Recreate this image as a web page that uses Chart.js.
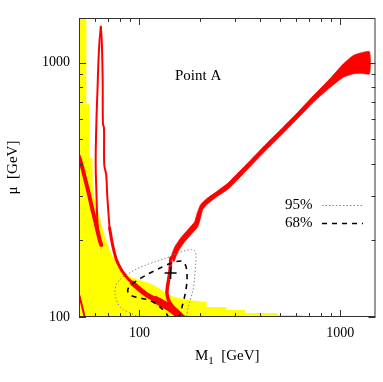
<!DOCTYPE html>
<html>
<head>
<meta charset="utf-8">
<script src="https://cdn.jsdelivr.net/npm/chart.js@4.4.1/dist/chart.umd.min.js"></script>
<style>
  html, body { margin: 0; padding: 0; background: #fff; }
  canvas { display: block; }
</style>
</head>
<body>
<canvas id="chart" width="383" height="382"></canvas>
<script>
// axes
const xRange = [50, 1500];
const yRange = [100, 1500];
const xTickValues = [60, 70, 80, 90, 100, 200, 300, 400, 500, 600, 700, 800, 900, 1000];
const yTickValues = [100, 200, 300, 400, 500, 600, 700, 800, 900, 1000];
const labelledTicks = [100, 1000];

// all points are [M1, mu] in GeV
const allowedRegion = [
  [48, 1600], [54.4, 1600], [54.4, 690], [56.2, 690], [56.2, 423], [58.3, 423],
  [58.6, 316], [59.9, 289], [62.0, 264], [64.2, 236.6], [66.4, 216], [68.7, 197.4],
  [71.9, 180.3], [76.0, 164.6], [81.4, 154.5], [92.2, 142.4], [111.8, 136], [125.2, 130],
  [135.6, 124.3], [148.5, 119.9], [175.9, 116.7], [215.7, 114.6], [215.7, 109.5],
  [270.6, 109.5], [270.6, 106.6], [335.5, 106.6], [335.5, 103.7], [487.7, 103.7],
  [487.7, 101.8], [647, 101.8], [647, 98], [48, 98]
];

const cornerLine = [[50.3, 121], [53.7, 98]];

const loopLeftArm = [
  [48.9, 446], [50.6, 415], [52.3, 379], [54.1, 340], [56.0, 305], [57.9, 271],
  [59.9, 243], [62.0, 216], [63.4, 201], [64.5, 192]
];

const spikeLeftArm = [
  [64.5, 192], [63.4, 199], [62.4, 216], [61.7, 241], [61.3, 276], [61.0, 316],
  [60.6, 379], [60.6, 454], [61.0, 570], [61.3, 653], [61.8, 776], [62.4, 982],
  [63.1, 1177], [64.2, 1386]
];

const mainCurveTop = [
  [64.2, 1386], [64.9, 1232], [65.6, 857], [65.8, 575], [66.6, 555], [66.8, 397],
  [68.3, 362], [69.1, 302], [70, 260], [71.0, 224]
];
const mainCurveMid = [[71.0, 224], [73.5, 192], [76.9, 167.6], [81.4, 153], [86.1, 143.8], [92.2, 136]];
const mainCurveLow = [[92.2, 136], [99.8, 128.9], [109.3, 122], [121, 116.7]];
const mainCurveEnd = [[121, 116.7], [134, 111.5], [146.8, 106.6], [157.1, 101.8], [162.5, 99.1]];

const hookLine = [
  [143.5, 170.7], [141.8, 150.4], [138.7, 134.9], [137.1, 124.3], [140.2, 115.6],
  [146.8, 109.5], [153.5, 103.7]
];

const diagonalBand = [
  [143.5, 172.3], [150.1, 188.7], [160.6, 204.6], [173.9, 220], [188.2, 236.6],
  [193.6, 254.4], [201.5, 276], [215.7, 291.4], [241.6, 310.6], [276.8, 337],
  [347.2, 404], [419.4, 471.3], [504.5, 544.7], [611.8, 635.6], [739, 744.8],
  [889, 865], [1038.7, 991], [1163.5, 1068], [1278, 1095], [1400, 1105],
  [1400, 905], [1278, 909], [1163.5, 905], [1038.7, 878], [892, 801], [739, 702],
  [611.8, 602], [504.5, 516], [419.4, 446.3], [347.2, 382.5], [276.8, 319],
  [241.6, 296.8], [215.7, 276], [206.2, 263.8], [201.5, 245.4], [194.8, 226.1],
  [179.8, 210.2], [166.2, 195.6], [155.3, 180.3], [148.5, 164.6]
];

const contour95 = [
  [99.8, 99], [90.9, 103.4], [82.6, 107.2], [78.0, 113.2], [75.6, 123.2], [76.6, 133.7],
  [80.5, 141.2], [85.9, 146.4], [96.2, 154.1], [107.7, 160.2], [120.6, 165.1],
  [135.1, 170.2], [151.3, 177], [169.4, 182.4], [182, 184.4], [189.3, 182],
  [191.5, 173.9], [190.4, 160.2], [188.2, 142.4], [185, 127.7], [177.3, 113.5], [170.6, 99]
];

const contour68 = [
  [157.1, 99], [163, 109.5], [169, 123.2], [172.6, 138.6], [171.9, 153], [168.1, 162.4],
  [160.6, 166.1], [150.1, 164.6], [140.2, 161.7], [125.2, 155.2], [109.3, 147],
  [97.6, 139.3], [90.2, 133], [87.4, 127.7], [89.1, 122.6], [97.6, 119.3],
  [109.3, 117.2], [119.6, 113.5], [128.1, 108.5], [135.6, 103.7], [140.2, 99]
];

const bestFit = [[143, 149]];

const RED = '#ff0000';
const SERIF = "'Liberation Serif', 'DejaVu Serif', serif";

const pts = arr => arr.map(([x, y]) => ({x, y}));

function redLine(data, width) {
  return {
    data: pts(data), showLine: true, borderColor: RED, borderWidth: width,
    pointRadius: 0, tension: 0.3, borderJoinStyle: 'round', borderCapStyle: 'round',
    fill: false, clip: 0, order: 5
  };
}

// inward ticks, frame and the texts drawn on the plot
const decorations = {
  id: 'decorations',
  afterDatasetsDraw(chart) {
    const {ctx, chartArea: a, scales: {x, y}} = chart;
    ctx.save();
    ctx.strokeStyle = '#333';
    ctx.lineWidth = 1;
    ctx.beginPath();
    xTickValues.forEach(v => {
      const px = Math.round(x.getPixelForValue(v)) + 0.5;
      const len = labelledTicks.includes(v) ? 7 : 4;
      ctx.moveTo(px, a.bottom); ctx.lineTo(px, a.bottom - len);
      ctx.moveTo(px, a.top); ctx.lineTo(px, a.top + len);
    });
    yTickValues.forEach(v => {
      const py = Math.round(y.getPixelForValue(v)) + 0.5;
      const len = labelledTicks.includes(v) ? 7 : 4;
      ctx.moveTo(a.left, py); ctx.lineTo(a.left + len, py);
      ctx.moveTo(a.right, py); ctx.lineTo(a.right - len, py);
    });
    ctx.stroke();
    ctx.strokeRect(a.left + 0.5, a.top + 0.5, a.right - a.left - 1, a.bottom - a.top - 1);

    ctx.fillStyle = '#000';
    ctx.font = '15px ' + SERIF;
    ctx.textBaseline = 'middle';
    ctx.textAlign = 'center';
    ctx.fillText('Point A', x.getPixelForValue(196), y.getPixelForValue(889));

    // key
    ctx.textAlign = 'left';
    ctx.fillText('95%', 285, 205);
    ctx.fillText('68%', 285, 223);
    ctx.beginPath();
    ctx.strokeStyle = '#888';
    ctx.setLineDash([1.5, 2]);
    ctx.moveTo(322, 205.5); ctx.lineTo(363, 205.5);
    ctx.stroke();
    ctx.beginPath();
    ctx.strokeStyle = '#000';
    ctx.lineWidth = 1.5;
    ctx.setLineDash([5, 5]);
    ctx.moveTo(322, 223.5); ctx.lineTo(363, 223.5);
    ctx.stroke();
    ctx.setLineDash([]);

    // x axis title with subscript
    const big = '15px ' + SERIF, small = '11px ' + SERIF;
    ctx.font = big; const wM = ctx.measureText('M').width;
    const wRest = ctx.measureText('  [GeV]').width;
    ctx.font = small; const w1 = ctx.measureText('1').width;
    let cx = (a.left + a.right) / 2 - (wM + w1 + wRest) / 2;
    ctx.textBaseline = 'alphabetic';
    ctx.font = big; ctx.fillText('M', cx, 360); cx += wM;
    ctx.font = small; ctx.fillText('1', cx, 364); cx += w1;
    ctx.font = big; ctx.fillText('  [GeV]', cx, 360);
    ctx.restore();
  }
};

new Chart(document.getElementById('chart'), {
  type: 'scatter',
  data: {
    datasets: [
      { data: pts(allowedRegion), showLine: true, fill: 'shape', backgroundColor: '#ffff00',
        borderWidth: 0, pointRadius: 0, tension: 0, clip: 0, order: 10 },
      { data: pts(diagonalBand), showLine: true, fill: 'shape', backgroundColor: RED,
        borderColor: RED, borderWidth: 0.8, pointRadius: 0, tension: 0.2, clip: 0, order: 6 },
      redLine(cornerLine, 2),
      redLine(loopLeftArm, 4),
      redLine(spikeLeftArm, 2),
      redLine(mainCurveTop, 2),
      redLine(mainCurveMid, 3),
      redLine(mainCurveLow, 5),
      redLine(mainCurveEnd, 7.5),
      redLine(hookLine, 3.5),
      { data: pts(contour95), showLine: true, borderColor: '#888', borderWidth: 1,
        borderDash: [1.5, 2], pointRadius: 0, tension: 0.3, fill: false, clip: 0, order: 2 },
      { data: pts(contour68), showLine: true, borderColor: '#000', borderWidth: 1.6,
        borderDash: [5, 5], pointRadius: 0, tension: 0.3, fill: false, clip: 0, order: 1 },
      { data: pts(bestFit), showLine: false, pointStyle: 'cross', pointRadius: 6,
        borderColor: '#000', borderWidth: 1.5, clip: 0, order: 0 }
    ]
  },
  options: {
    responsive: false,
    devicePixelRatio: 1,
    animation: false,
    events: [],
    layout: { padding: { left: 0, right: 5, top: 18, bottom: 0 } },
    plugins: { legend: { display: false }, tooltip: { enabled: false } },
    scales: {
      x: {
        type: 'logarithmic', min: xRange[0], max: xRange[1],
        grid: { display: false, drawTicks: false }, border: { display: false },
        afterBuildTicks: s => { s.ticks = xTickValues.map(v => ({value: v})); },
        afterFit: s => { s.height = 65; },
        ticks: {
          autoSkip: false, maxRotation: 0, minRotation: 0, padding: 8, color: '#000',
          font: { family: SERIF, size: 14 },
          callback: v => labelledTicks.includes(v) ? String(v) : ''
        }
      },
      y: {
        type: 'logarithmic', min: yRange[0], max: yRange[1],
        grid: { display: false, drawTicks: false }, border: { display: false },
        afterBuildTicks: s => { s.ticks = yTickValues.map(v => ({value: v})); },
        afterFit: s => { s.width = 79; },
        title: { display: true, text: 'μ  [GeV]', color: '#000', font: { family: SERIF, size: 15 },
          padding: { top: 4, bottom: 0 } },
        ticks: {
          autoSkip: false, padding: 9, color: '#000',
          font: { family: SERIF, size: 14 },
          callback: v => labelledTicks.includes(v) ? String(v) : ''
        }
      }
    }
  },
  plugins: [decorations]
});
</script>
</body>
</html>
